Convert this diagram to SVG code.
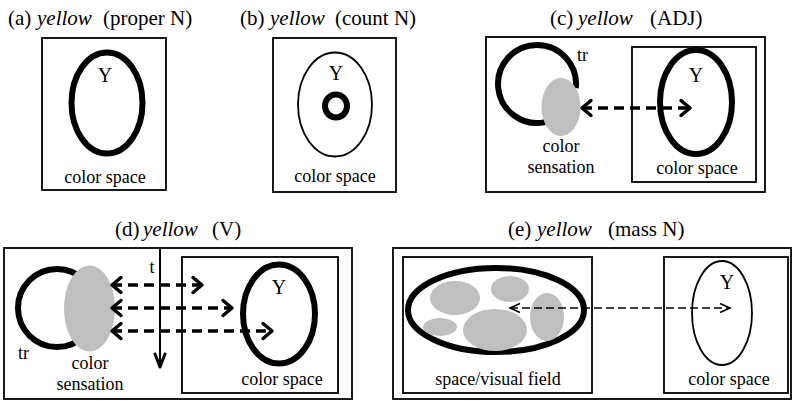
<svg xmlns="http://www.w3.org/2000/svg" width="793" height="401" viewBox="0 0 793 401">
<defs>
<style>
text{font-family:"Liberation Serif","DejaVu Serif",serif;fill:#000}
.title{font-size:21px}
.it{font-style:italic}
.lbl{font-size:18px;text-anchor:middle}
.Y{font-size:20px;text-anchor:middle}
.sm{font-size:18px}
.box{fill:none;stroke:#000;stroke-width:1.8}
.thick{fill:none;stroke:#000;stroke-width:6}
.thin{fill:none;stroke:#000;stroke-width:1.8}
.gray{fill:#bfbfbf;stroke:none}
.darr{fill:none;stroke:#000;stroke-width:3.5;stroke-dasharray:10 6}
.tarr{fill:none;stroke:#000;stroke-width:1.5;stroke-dasharray:8 4}
</style>
<marker id="hk" markerUnits="userSpaceOnUse" viewBox="0 0 16 20" markerWidth="16" markerHeight="20" refX="13" refY="10" orient="auto-start-reverse">
<path d="M4,2.5 L13,10 L4,17.5" fill="none" stroke="#000" stroke-width="3.5" stroke-linecap="round" stroke-linejoin="round" stroke-dasharray="none"/>
</marker>
<marker id="hn" markerUnits="userSpaceOnUse" viewBox="0 0 14 12" markerWidth="14" markerHeight="12" refX="12" refY="6" orient="auto-start-reverse">
<path d="M2,1.5 L12,6 L2,10.5" fill="none" stroke="#000" stroke-width="1.5" stroke-dasharray="none"/>
</marker>
</defs>
<rect width="793" height="401" fill="#fff"/>

<g id="panel-a">
<text class="title" y="25"><tspan x="8">(a)</tspan><tspan x="37" class="it">yellow</tspan><tspan x="103">(proper N)</tspan></text>
<rect class="box" x="42" y="38" width="124" height="152"/>
<ellipse class="thick" stroke-width="5.5" cx="107" cy="103" rx="35.5" ry="50.5"/>
<text class="Y" x="105" y="82">Y</text>
<text class="lbl" x="105" y="183">color space</text>
</g>

<g id="panel-b">
<text class="title" y="25"><tspan x="240">(b)</tspan><tspan x="270" class="it">yellow</tspan><tspan x="335">(count N)</tspan></text>
<rect class="box" x="273" y="38" width="123" height="154"/>
<ellipse class="thin" cx="335" cy="104.5" rx="37" ry="52"/>
<text class="Y" x="336" y="80">Y</text>
<ellipse fill="none" stroke="#000" stroke-width="6" cx="336" cy="106" rx="11" ry="11.5"/>
<text class="lbl" x="335" y="182">color space</text>
</g>

<g id="panel-c">
<text class="title" y="25"><tspan x="550">(c)</tspan><tspan x="578" class="it">yellow</tspan><tspan x="650">(ADJ)</tspan></text>
<rect class="box" x="486" y="37" width="279" height="155"/>
<g id="c-tr">
<path class="thick" d="M575.8,88.1 A39,39 0 1 0 545.1,122.1"/>
<ellipse class="gray" cx="561" cy="107" rx="19.5" ry="29"/>
<text class="sm" x="577" y="61">tr</text>
<text class="lbl" x="561" y="152">color</text>
<text class="lbl" x="561" y="173">sensation</text>
</g>
<g id="c-colorspace">
<rect class="box" x="632" y="47" width="124" height="135"/>
<ellipse class="thick" cx="696" cy="102" rx="36" ry="52"/>
<text class="Y" x="696" y="82">Y</text>
<text class="lbl" x="697" y="174">color space</text>
</g>
</g>

<g id="panel-d">
<text class="title" y="236"><tspan x="115">(d)</tspan><tspan x="143" class="it">yellow</tspan><tspan x="212">(V)</tspan></text>
<rect class="box" x="4" y="248" width="348" height="151"/>
<g id="d-tr">
<circle class="thick" cx="57" cy="308" r="39"/>
<ellipse class="gray" cx="89.5" cy="308.5" rx="25.5" ry="43"/>
<text class="sm" x="18" y="359">tr</text>
<text class="lbl" x="90" y="369">color</text>
<text class="lbl" x="90" y="390">sensation</text>
</g>
<g id="d-colorspace">
<rect class="box" x="182" y="257" width="156" height="136"/>
<ellipse class="thick" cx="279" cy="314" rx="36" ry="49.5"/>
<text class="Y" x="279" y="294">Y</text>
<text class="lbl" x="282" y="385">color space</text>
</g>
<g id="d-time">
<line x1="160" y1="248" x2="160" y2="366" stroke="#000" stroke-width="2"/>
<path d="M155,354 L160,367 L165,354" fill="none" stroke="#000" stroke-width="3" stroke-linecap="round" stroke-linejoin="round"/>
<text class="sm" x="152" y="273" text-anchor="middle">t</text>
</g>
</g>

<g id="panel-e">
<text class="title" y="236"><tspan x="508">(e)</tspan><tspan x="537" class="it">yellow</tspan><tspan x="608">(mass N)</tspan></text>
<rect class="box" x="393" y="248" width="398" height="151"/>
<g id="e-field">
<rect class="box" x="403" y="257" width="189" height="136"/>
<ellipse class="thick" cx="496" cy="310" rx="88" ry="42"/>
<ellipse class="gray" cx="455" cy="298" rx="25" ry="17"/>
<ellipse class="gray" cx="510" cy="289" rx="19" ry="13"/>
<ellipse class="gray" cx="547" cy="317" rx="17" ry="24"/>
<ellipse class="gray" cx="440" cy="327" rx="17" ry="9"/>
<ellipse class="gray" cx="495" cy="330" rx="32" ry="21"/>
<text class="lbl" x="498" y="385">space/visual field</text>
</g>
<g id="e-colorspace">
<rect class="box" x="664" y="257" width="124" height="136"/>
<ellipse class="thin" cx="722" cy="313" rx="30" ry="52"/>
<text class="Y" x="727" y="289">Y</text>
<text class="lbl" x="729" y="385">color space</text>
</g>
</g>

<g id="connectors">
<line class="darr" x1="582" y1="108" x2="690" y2="108" marker-start="url(#hk)" marker-end="url(#hk)"/>
<line class="darr" x1="112" y1="285" x2="202" y2="285" marker-start="url(#hk)" marker-end="url(#hk)"/>
<line class="darr" x1="112" y1="308" x2="232" y2="308" marker-start="url(#hk)" marker-end="url(#hk)"/>
<line class="darr" x1="112" y1="331" x2="272" y2="331" marker-start="url(#hk)" marker-end="url(#hk)"/>
<line class="tarr" x1="510" y1="308" x2="730" y2="308" marker-start="url(#hn)" marker-end="url(#hn)"/>
</g>
</svg>
